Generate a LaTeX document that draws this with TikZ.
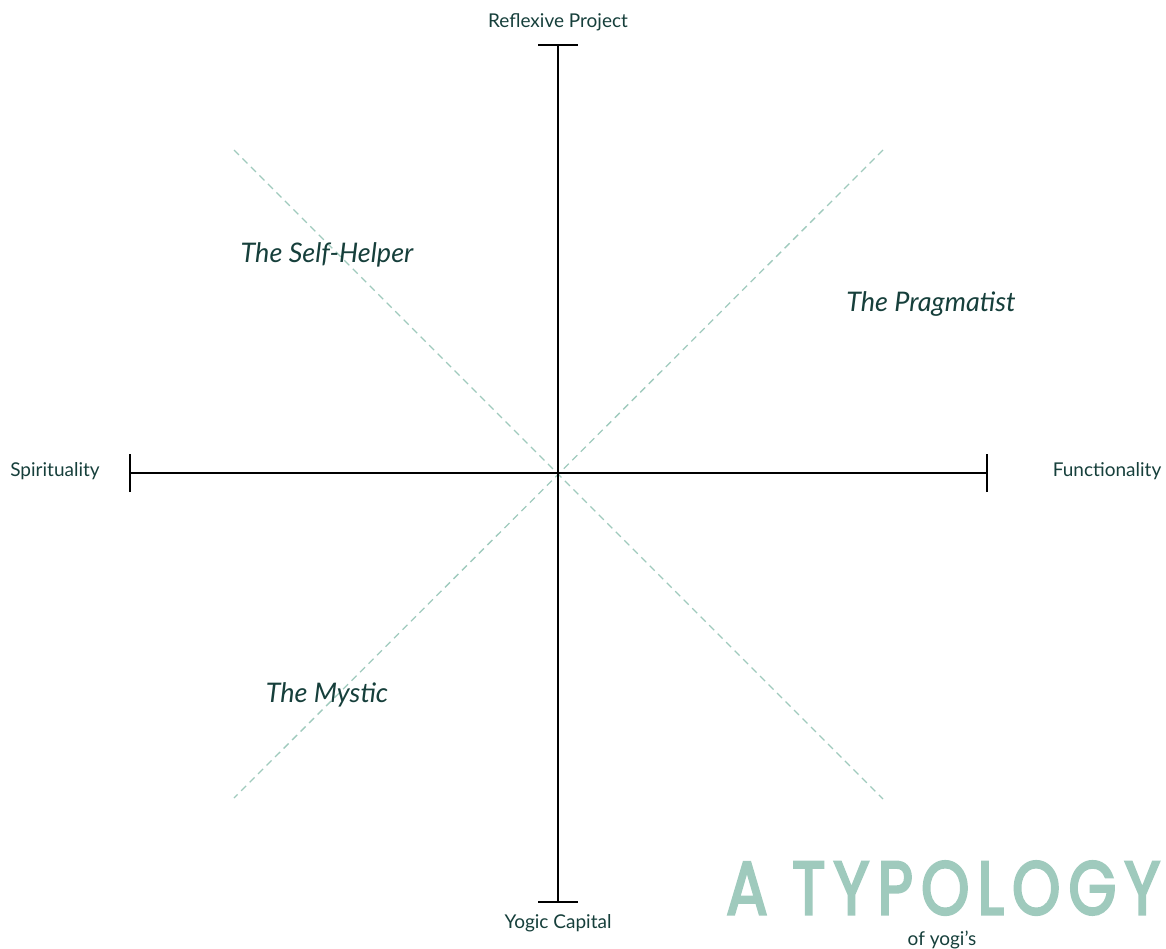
\documentclass[tikz,border=0pt]{standalone}
\usepackage{fontspec}
\setmainfont{Lato}
\newfontfamily\titlefont[FakeBold=3.5, LetterSpace=13]{Poppins}
\definecolor{ink}{HTML}{163F3B}
\definecolor{sage}{HTML}{9FCABD}
\tikzset{
  axisline/.style={line width=2pt, black},
  endbar/.style={line width=2.4pt, black},
  diag/.style={line width=1.3pt, sage, dash pattern=on 7pt off 5pt},
  axlabel/.style={text=ink, font=\fontsize{19}{22}\selectfont, inner sep=0pt},
  typelabel/.style={text=ink, font=\fontsize{27}{30}\selectfont\itshape, inner sep=0pt},
}
\begin{document}
\begin{tikzpicture}[x=1pt, y=-1pt]
  \useasboundingbox (0,0) rectangle (1166,949);
  % axis ends
  \coordinate (O) at (558,473);
  \coordinate (T) at (558,45);
  \coordinate (B) at (558,902);
  \coordinate (L) at (130,473);
  \coordinate (R) at (987,473);
  % diagonal ends
  \coordinate (NW) at (234,150);
  \coordinate (SE) at (883,799);
  \coordinate (NE) at (883,150);
  \coordinate (SW) at (234,798);
  % dashed diagonals
  \draw[diag] (NW) -- (SE);
  \draw[diag] (NE) -- (SW);
  % main axes with end bars
  \draw[axisline] (T) -- (B);
  \draw[axisline] (L) -- (R);
  \draw[endbar] ([xshift=-20pt]T) -- ([xshift=20pt]T);
  \draw[endbar] ([xshift=-20pt]B) -- ([xshift=20pt]B);
  \draw[endbar] ([yshift=-19pt]L) -- ([yshift=19pt]L);
  \draw[endbar] ([yshift=-19pt]R) -- ([yshift=19pt]R);
  % axis labels
  \node[axlabel] (top) at (558,22) {Reflexive Project};
  \node[axlabel] (bottom) at (558,923) {Yogic Capital};
  \node[axlabel] (left) at (55,471) {Spirituality};
  \node[axlabel] (right) at (1107,471) {Functionality};
  % quadrant types
  \node[typelabel] (selfhelper) at (327,255) {The Self-Helper};
  \node[typelabel] (pragmatist) at (931,304) {The Pragmatist};
  \node[typelabel] (mystic) at (327,695) {The Mystic};
  % title
  \node[text=sage, inner sep=0pt, anchor=south west] (title) at (726,915)
    {\resizebox{434pt}{53pt}{\titlefont A TYPOLOGY}};
  \node[axlabel] (subtitle) at (942,940) {of yogi's};
\end{tikzpicture}
\end{document}
